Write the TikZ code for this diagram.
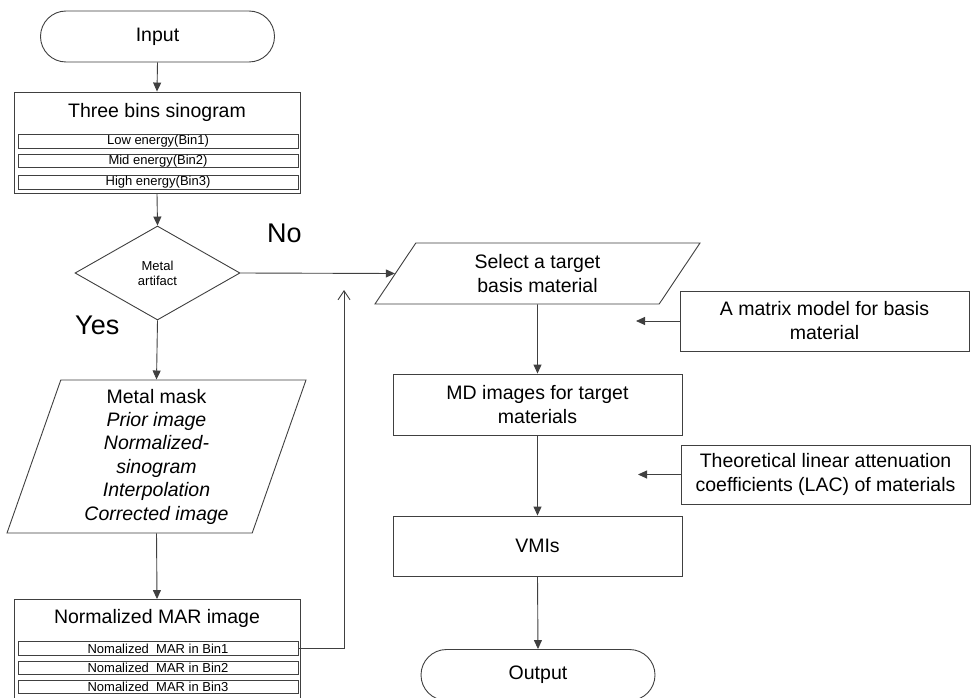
\documentclass[tikz,border=0pt]{standalone}
\usepackage{fontspec}
\setmainfont{Liberation Sans}
\usetikzlibrary{arrows.meta,shapes.geometric,shapes.misc}
\begin{document}
\begin{tikzpicture}[x=1pt,y=-1pt,
  ln/.style={draw=black!75, line width=0.9pt},
  big/.style={font=\fontsize{19.5}{24}\selectfont},
  small/.style={font=\fontsize{13}{15}\selectfont},
  lbl/.style={font=\fontsize{27}{30}\selectfont, anchor=base west, inner sep=0pt},
  box/.style={ln, rectangle, minimum width=289pt, minimum height=60pt, inner sep=0pt, align=center, big},
  term/.style={ln, rounded rectangle, minimum width=234pt, minimum height=51pt, inner sep=0pt, big},
  group/.style={ln, rectangle, minimum width=286pt, minimum height=101pt, inner sep=0pt},
  subbox/.style={ln, rectangle, minimum width=280pt, minimum height=13.5pt, inner sep=0pt, small},
  plain/.style={inner sep=0pt, align=center},
  arr/.style={ln, -{Triangle[length=9pt,width=8pt]}},
  openarr/.style={ln, -{Straight Barb[length=9pt,width=12pt]}}
]
\clip (0,0) rectangle (972,698);
\fill[white] (0,0) rectangle (972,698);

% left column
\node[term] (in) at (157.5,36.5) {Input};

\node[group] (tb) at (157,142.5) {};
\node[plain, big] (tbt) at (157,112) {Three bins sinogram};
\node[subbox] (b1) at (158,141.5) {Low energy(Bin1)};
\node[subbox] (b2) at (158,161) {Mid energy(Bin2)};
\node[subbox] (b3) at (158,182.5) {High energy(Bin3)};

\node[ln, diamond, aspect=1.755, minimum width=165pt, minimum height=94pt, inner sep=0pt, align=center, small] (dec) at (157.5,273) {Metal\\artifact};

\node[lbl] (no) at (267,242) {No};
\node[lbl] (yes) at (75,334) {Yes};

\node[ln, trapezium, trapezium left angle=68.3, trapezium right angle=111.7, trapezium stretches body,
      minimum width=299pt, minimum height=153pt, inner sep=0pt, align=center,
      font=\fontsize{19.5}{23.4}\selectfont] (mm) at (156.5,456.5)
  {Metal mask\\\textit{Prior image}\\\textit{Normalized-}\\\textit{sinogram}\\\textit{Interpolation}\\\textit{Corrected image}};

\node[group] (nm) at (157,650) {};
\node[plain, big] (nmt) at (157,618) {Normalized MAR image};
\node[subbox] (n1) at (158,648.5) {Nomalized\ \ MAR in Bin1};
\node[subbox] (n2) at (158,668) {Nomalized\ \ MAR in Bin2};
\node[subbox] (n3) at (158,687) {Nomalized\ \ MAR in Bin3};

% right column
\node[ln, trapezium, trapezium left angle=43.2, trapezium right angle=136.8, trapezium stretches body,
      minimum width=325pt, minimum height=61pt, inner sep=0pt, align=center, big] (sel) at (537.5,273.5)
  {Select a target\\basis material};
\node[box] (mat) at (824.5,321) {A matrix model for basis\\material};
\node[box, minimum height=61pt] (md) at (537.5,404.5) {MD images for target\\materials};
\node[box, minimum height=59pt] (lac) at (825.5,474.5) {Theoretical linear attenuation\\coefficients (LAC) of materials};
\node[box] (vmi) at (537.5,546) {VMIs};
\node[term] (out) at (538,675) {Output};

\coordinate (matend) at (636,321);
\coordinate (lacend) at (638,474.5);
\coordinate (fb) at (344,290);

% connectors
\draw[arr] (in.south) -- (tb.north);
\draw[arr] (tb.south) -- (dec.north);
\draw[arr] (dec.south) -- (mm.north);
\draw[arr] (mm.south) -- (nm.north);
\draw[arr] (dec.east) -- (sel.west);
\draw[openarr] (n1.east) -| (fb);
\draw[arr] (sel.south) -- (md.north);
\draw[arr] (md.south) -- (vmi.north);
\draw[arr] (vmi.south) -- (out.north);
\draw[arr] (mat.west) -- (matend);
\draw[arr] (lac.west) -- (lacend);
\end{tikzpicture}
\end{document}
